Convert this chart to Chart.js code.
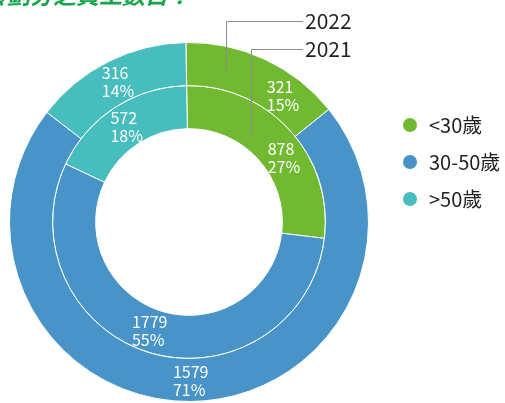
<!DOCTYPE html>
<html>
<head>
<meta charset="utf-8">
<script src="https://cdn.jsdelivr.net/npm/chart.js@4.4.0/dist/chart.umd.min.js"></script>
<style>
  html, body { margin: 0; padding: 0; background: #fff; }
  #wrap { position: relative; width: 505px; height: 403px; overflow: hidden; }
</style>
</head>
<body>
<div id="wrap"><canvas id="chart"></canvas></div>
<script>
// age groups and per-year headcounts
const ageGroups = ['<30歲', '30-50歲', '>50歲'];
const groupColors = ['#72b932', '#4893c7', '#48bdbd'];
const years = ['2022', '2021'];
const counts2022 = [321, 1579, 316];
const counts2021 = [878, 1779, 572];
const pct2022 = ['15%', '71%', '14%'];
const pct2021 = ['27%', '55%', '18%'];
const titleText = '按年齡劃分之員工數目？';

const FONT = '"Noto Sans CJK TC", "Noto Sans", sans-serif';

// where along each arc the label sits (0 = start angle, 1 = end angle)
const labelSpot = [
    [0.72, 0.5, 0.5],
    [0.58, 0.52, 0.5]
];

// draws value/percent labels inside each arc
const arcLabels = {
    id: 'arcLabels',
    afterDatasetsDraw(chart) {
        const ctx = chart.ctx;
        ctx.save();
        ctx.fillStyle = '#ffffff';
        ctx.font = '16px ' + FONT;
        ctx.textAlign = 'left';
        ctx.textBaseline = 'middle';
        chart.data.datasets.forEach((ds, di) => {
            const meta = chart.getDatasetMeta(di);
            meta.data.forEach((arc, i) => {
                const p = arc.getProps(['x', 'y', 'startAngle', 'endAngle', 'innerRadius', 'outerRadius'], true);
                const a = p.startAngle + (p.endAngle - p.startAngle) * labelSpot[di][i];
                const r = (p.innerRadius + p.outerRadius) / 2;
                const px = p.x + Math.cos(a) * r;
                const py = p.y + Math.sin(a) * r;
                const lines = [String(ds.data[i]), ds.pcts[i]];
                const w = Math.max(...lines.map(t => ctx.measureText(t).width));
                const x0 = px - w / 2;
                ctx.fillText(lines[0], x0, py - 8);
                ctx.fillText(lines[1], x0, py + 10);
            });
        });
        ctx.restore();
    }
};

// title, year call-outs and legend
const decorations = {
    id: 'decorations',
    afterDraw(chart) {
        const ctx = chart.ctx;
        ctx.save();

        // title (cut off at the top edge)
        ctx.fillStyle = '#17a34a';
        ctx.font = 'italic bold 23px ' + FONT;
        ctx.textBaseline = 'alphabetic';
        ctx.fillText(titleText, -62, 4);

        // year call-outs
        ctx.strokeStyle = '#8c8c8c';
        ctx.lineWidth = 1;
        ctx.beginPath();
        ctx.moveTo(303, 21.5); ctx.lineTo(226.5, 21.5); ctx.lineTo(226.5, 72);
        ctx.moveTo(303, 49.5); ctx.lineTo(251.5, 49.5); ctx.lineTo(251.5, 137);
        ctx.stroke();
        ctx.fillStyle = '#231f20';
        ctx.font = '21px ' + FONT;
        ctx.fillText(years[0], 305, 29);
        ctx.fillText(years[1], 305, 57);

        // legend
        ctx.font = '20px ' + FONT;
        ctx.textBaseline = 'middle';
        chart.data.labels.forEach((lab, i) => {
            const y = 125 + i * 37;
            ctx.fillStyle = groupColors[i];
            ctx.beginPath();
            ctx.arc(410, y, 7, 0, Math.PI * 2);
            ctx.fill();
            ctx.fillStyle = '#231f20';
            ctx.fillText(lab, 429, y);
        });
        ctx.restore();
    }
};

const ctx = document.getElementById('chart').getContext('2d');
new Chart(ctx, {
    type: 'doughnut',
    data: {
        labels: ageGroups,
        datasets: [
            {
                label: years[0],
                data: counts2022,
                pcts: pct2022,
                backgroundColor: groupColors,
                borderColor: '#ffffff',
                borderWidth: 1
            },
            {
                label: years[1],
                data: counts2021,
                pcts: pct2021,
                backgroundColor: groupColors,
                borderColor: '#ffffff',
                borderWidth: 1
            }
        ]
    },
    options: {
        responsive: true,
        maintainAspectRatio: false,
        animation: false,
        rotation: -1,
        cutout: '52%',
        layout: { padding: { left: 8, top: 42, right: 135, bottom: 1 } },
        plugins: {
            legend: { display: false },
            tooltip: { enabled: false }
        }
    },
    plugins: [arcLabels, decorations]
});
</script>
</body>
</html>
